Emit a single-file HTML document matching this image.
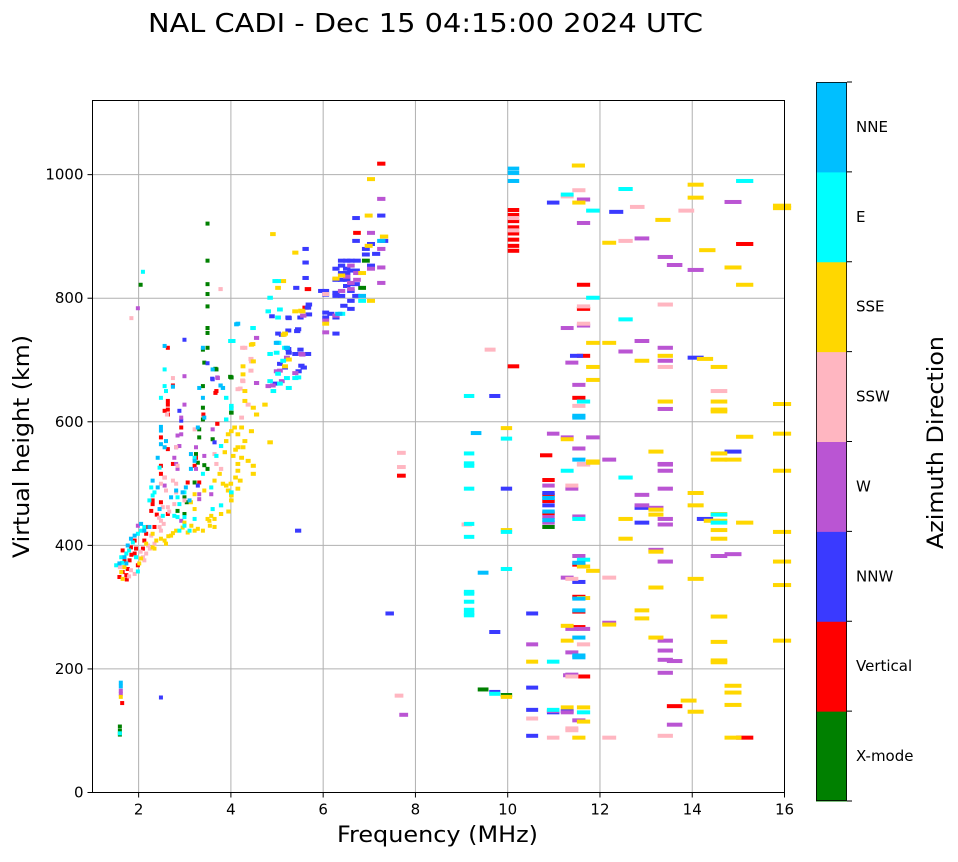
<!DOCTYPE html>
<html><head><meta charset="utf-8"><style>
html,body{margin:0;padding:0;background:#fff;}
svg text{font-family:"DejaVu Sans","Liberation Sans",sans-serif;fill:#000;}
</style></head><body>
<svg id="chart" width="958" height="857" xmlns="http://www.w3.org/2000/svg">
<text x="148" y="32" font-size="26" textLength="555" lengthAdjust="spacingAndGlyphs">NAL CADI - Dec 15 04:15:00 2024 UTC</text>
<g id="grid"></g>
<g id="marks"></g>
<rect x="92.5" y="100.5" width="692" height="692" fill="none" stroke="#000" stroke-width="1"/>
<g id="axes"></g>
<text x="337" y="842" font-size="22" textLength="201" lengthAdjust="spacingAndGlyphs">Frequency (MHz)</text>
<text transform="translate(29,558) rotate(-90)" font-size="22" textLength="223" lengthAdjust="spacingAndGlyphs">Virtual height (km)</text>
<g id="cbar"></g>
<text transform="translate(943,549) rotate(-90)" font-size="22" textLength="213" lengthAdjust="spacingAndGlyphs">Azimuth Direction</text>
</svg>
<script>
const directions = ["X-mode","Vertical","NNW","W","SSW","SSE","E","NNE"];
const dirColors = ["#008000","#ff0000","#3a3aff","#ba55d3","#ffb6c1","#ffd700","#00ffff","#00bfff"];
const xTicks = [2,4,6,8,10,12,14,16];
const yTicks = [0,200,400,600,800,1000];

const xmodeCells = [[3.45,787],[3.45,752],[3.45,744],[3.35,717],[3.38,696],[3.64,685],[3.96,672],[3.35,658],[3.35,623],[3.96,615],[3.35,604],[3.27,588],[3.27,575],[3.56,572],[3.2,548],[3.24,534],[3.45,524],[2.95,478],[3.17,502],[2.95,451],[2.8,456],[3.45,921],[3.45,861],[3.45,823],[3.45,807],[3.45,752],[3.45,720],[3.62,686],[3.94,673],[6.76,817],[6.84,861],[2.0,822],[1.55,107],[1.55,100],[1.55,94],[10.75,430],[9.35,167],[9.85,158],[3.38,530],[3.0,470]];
const verticalCells = [[2.59,720],[2.7,659],[2.59,634],[2.59,628],[2.59,620],[2.59,612],[2.52,618],[2.88,591],[2.44,575],[2.7,532],[2.59,556],[2.44,529],[2.52,510],[2.44,516],[3.17,529],[3.2,542],[3.27,502],[3.02,502],[3.64,650],[3.66,597],[3.36,612],[2.26,473],[2.26,467],[2.23,456],[2.44,470],[2.59,451],[2.3,430],[2.08,408],[2.12,419],[1.87,408],[1.87,387],[1.61,392],[1.76,376],[1.94,368],[1.61,357],[1.54,349],[1.69,352],[1.79,397],[2.05,395],[1.72,362],[1.65,375],[1.8,385],[1.9,395],[1.7,345],[2.15,430],[2.35,450],[6.65,906],[7.17,1018],[5.6,815],[5.55,785],[3.62,647],[1.6,145],[10,943],[10,935],[10,925],[10,915],[10,905],[10,895],[10,885],[10,877],[10,690],[14.95,888],[11.5,822],[11.5,783],[11.5,707],[11.4,639],[10.7,546],[10.75,506],[10.75,481],[10.75,472],[10.75,452],[11.4,369],[11.4,317],[11.4,293],[11.4,268],[11.5,188],[13.45,140],[14.95,89],[7.6,513]];
const nnwCells = [[2.95,733],[3.56,669],[2.84,618],[3.24,497],[3.6,567],[2.88,602],[5.04,741],[5.19,768],[5.19,712],[5.37,747],[5.44,717],[5.51,688],[5.11,688],[5.4,682],[5.62,790],[5.62,774],[5.39,424],[3.45,695],[4.83,771],[6.32,861],[6.43,861],[6.52,861],[6.65,861],[6.43,848],[6.2,848],[6.32,841],[6.43,841],[6.63,823],[6.52,823],[6.2,809],[6.2,804],[6.32,804],[6.63,804],[6.52,796],[6.2,769],[6.2,743],[6.37,788],[6.52,783],[6.09,775],[5.98,777],[5.98,769],[5.98,812],[5.98,806],[6.84,880],[6.84,871],[6.95,853],[7.06,872],[6.63,893],[6.63,930],[7.17,934],[7.23,893],[6.95,888],[5.55,858],[5.55,880],[5.35,817],[5.6,785],[5.44,769],[5.18,748],[5.39,750],[5.18,769],[5.6,710],[5.46,691],[5.33,710],[4.96,743],[5.0,694],[4.9,662],[3.55,670],[5.18,718],[5.55,833],[5.89,812],[6.32,830],[6.43,830],[6.52,812],[6.2,830],[6.32,853],[6.52,845],[6.63,845],[6.43,820],[2.44,154],[10.85,955],[12.2,940],[11.35,707],[13.9,704],[9.6,642],[10.75,485],[10.75,465],[9.85,492],[12.75,461],[12.75,437],[14.1,443],[14.7,552],[11.4,341],[10.4,290],[9.6,260],[10.4,170],[10.4,134],[10.4,92],[10.85,130],[11.15,132],[9.6,163],[7.35,290]];
const wCells = [[2.88,580],[2.8,578],[2.77,559],[2.88,607],[2.95,628],[2.84,561],[2.73,542],[2.77,532],[2.8,524],[2.52,497],[2.95,674],[3.56,588],[3.67,671],[4.5,663],[4.75,658],[4.93,682],[5.04,666],[3.27,475],[3.27,483],[3.2,524],[3.38,545],[1.94,784],[1.94,432],[2.88,440],[3.2,559],[3.53,483],[4.5,736],[5.15,704],[5.33,679],[5.48,709],[6.52,825],[6.65,841],[6.52,853],[6.32,812],[6.2,772],[5.98,764],[6.95,848],[7.17,880],[7.17,850],[7.17,825],[6.95,906],[7.17,961],[5.46,710],[5.5,772],[5.98,745],[5.0,683],[4.85,659],[3.66,672],[6.52,815],[6.43,835],[6.65,830],[1.57,165],[1.57,160],[7.65,126],[11.5,960],[14.7,956],[11.5,922],[12.75,897],[13.25,867],[13.45,854],[13.9,846],[11.15,752],[11.5,756],[12.75,731],[13.25,720],[12.4,714],[13.25,699],[11.25,696],[11.4,660],[13.25,621],[10.85,581],[11.15,575],[11.7,575],[11.4,557],[12.05,539],[13.25,532],[13.25,531],[13.25,521],[10.75,497],[11.25,492],[10.75,446],[10.75,437],[13.25,492],[12.75,482],[12.75,465],[13.05,461],[11.4,447],[13.25,443],[13.25,434],[13.05,393],[14.4,383],[14.7,386],[13.25,374],[11.4,383],[11.15,348],[12.05,275],[11.25,265],[11.5,265],[10.4,240],[13.25,246],[11.25,227],[13.25,230],[13.25,215],[13.45,213],[11.25,191],[13.25,194],[13.45,110],[11.2,190],[10.85,132],[11.15,130],[11.4,117]];
const sswCells = [[2.7,671],[2.44,500],[2.55,489],[2.48,462],[2.44,440],[2.41,430],[2.59,462],[2.7,505],[2.77,500],[2.95,473],[2.8,529],[2.77,559],[1.79,360],[1.87,354],[1.61,365],[2.05,381],[2.12,387],[2.16,400],[2.3,403],[2.23,416],[2.08,376],[2.44,424],[2.73,467],[3.17,588],[3.6,548],[3.74,524],[4.18,607],[4.21,666],[4.32,628],[4.25,720],[4.39,698],[4.1,653],[2.57,612],[2.52,510],[3.64,532],[2.77,486],[3.73,815],[5.98,807],[4.2,720],[4.38,702],[4.38,683],[4.2,667],[4.15,654],[1.8,768],[1.55,365],[1.75,350],[2.0,390],[2.2,395],[2.4,445],[2.5,435],[2.62,455],[7.55,157],[7.6,550],[7.6,527],[9.0,434],[11.4,975],[11.15,965],[12.65,948],[13.7,942],[12.4,893],[10,930],[10,910],[13.25,790],[11.5,787],[11.5,759],[9.5,717],[13.25,689],[14.4,650],[11.4,626],[11.5,532],[11.5,531],[11.25,497],[11.25,346],[12.05,348],[11.5,240],[11.25,188],[10.4,120],[11.25,104],[11.25,101],[13.25,92],[10.85,89],[12.05,89]];
const sseCells = [[2.95,437],[3.02,421],[3.17,424],[3.24,427],[3.09,470],[3.17,459],[3.38,489],[3.45,443],[3.6,505],[3.71,516],[3.78,500],[3.85,497],[3.89,489],[3.96,481],[3.74,451],[3.96,473],[4.1,492],[4.1,521],[4.1,532],[4.18,542],[4.21,559],[4.1,559],[4.25,569],[4.39,585],[3.96,585],[4.03,591],[4.18,591],[4.1,580],[4.43,529],[4.43,516],[4.32,537],[4.43,698],[4.39,725],[4.21,690],[4.21,677],[4.25,650],[4.25,634],[4.43,623],[4.5,612],[4.68,628],[4.79,567],[3.89,580],[3.85,569],[3.17,483],[3.82,551],[2.26,397],[2.34,408],[2.44,411],[2.52,408],[2.66,416],[2.77,424],[2.91,429],[2.55,403],[2.3,395],[2.26,419],[2.12,403],[1.61,346],[1.58,357],[1.65,365],[1.97,371],[2.01,379],[2.6,415],[2.7,420],[3.1,432],[5.19,701],[5.11,690],[5.33,779],[5.48,779],[5.08,741],[3.49,440],[3.35,424],[3.6,443],[3.53,448],[4.0,545],[4.05,555],[3.95,500],[3.6,430],[3.5,432],[4.05,510],[4.15,505],[3.9,455],[6.95,993],[4.85,904],[6.9,934],[7.23,900],[6.9,885],[5.33,874],[6.95,796],[6.32,837],[5.98,759],[6.76,841],[5.07,828],[5.46,780],[6.2,832],[5.11,743],[4.42,726],[4.96,817],[1.57,155],[11.39,1015],[13.9,984],[13.9,963],[11.4,955],[15.75,950],[15.75,946],[13.2,927],[12.05,890],[14.15,878],[14.7,850],[14.95,822],[11.7,728],[12.05,728],[13.25,707],[14.1,702],[12.75,699],[11.7,689],[14.4,689],[11.7,668],[13.25,633],[14.4,633],[15.75,629],[14.4,620],[14.4,617],[9.85,590],[11.15,572],[11.7,536],[13.05,552],[14.4,549],[14.4,539],[14.7,539],[14.95,576],[15.75,581],[11.7,534],[15.75,521],[13.9,485],[13.9,465],[13.05,458],[13.05,450],[12.4,443],[14.4,451],[14.25,440],[14.4,440],[14.95,437],[14.4,425],[15.75,422],[14.4,411],[12.4,411],[9.85,425],[13.05,390],[15.75,374],[11.5,366],[11.7,359],[13.9,346],[13.05,332],[15.75,336],[11.5,315],[12.75,295],[12.75,282],[12.05,272],[13.05,251],[14.4,285],[11.15,270],[11.15,246],[14.4,244],[15.75,246],[14.4,214],[14.4,211],[10.4,212],[14.7,173],[14.7,162],[14.7,142],[13.75,149],[13.9,131],[11.15,138],[11.5,138],[11.5,115],[11.4,89],[14.7,89],[9.85,155]];
const eCells = [[2.8,478],[2.95,486],[2.84,467],[2.73,448],[3.64,545],[3.74,561],[3.74,465],[3.56,459],[3.96,486],[3.96,626],[3.85,604],[3.17,443],[2.95,446],[2.8,446],[2.48,448],[2.3,486],[2.26,481],[2.19,473],[2.08,430],[2.01,424],[1.94,419],[1.83,405],[1.69,387],[1.58,381],[1.47,368],[1.9,381],[1.94,358],[1.75,392],[1.6,372],[3.17,542],[3.35,516],[2.52,685],[2.55,650],[2.52,658],[2.44,639],[2.23,494],[2.41,526],[2.84,424],[3.06,424],[2.95,432],[3.53,494],[4.0,731],[4.43,752],[4.97,728],[4.93,712],[4.79,666],[5.15,671],[5.19,655],[4.86,650],[5.0,782],[3.96,622],[3.85,639],[4.75,779],[5.33,671],[4.9,828],[4.96,828],[6.32,775],[6.76,796],[4.79,801],[4.96,769],[4.79,710],[4.96,728],[5.11,720],[5.07,699],[5.39,672],[4.42,752],[3.94,731],[4.96,678],[5.0,662],[2.05,843],[1.55,96],[14.95,990],[12.4,977],[11.15,968],[11.7,942],[11.7,801],[12.4,766],[11.5,633],[9.05,642],[9.85,573],[9.05,549],[9.05,533],[9.05,529],[11.15,521],[12.4,510],[9.05,492],[10.75,477],[11.4,443],[14.4,437],[14.4,450],[9.05,435],[9.85,422],[9.05,414],[11.5,377],[9.85,362],[9.05,325],[9.05,322],[9.05,309],[9.05,296],[9.05,290],[9.05,287],[10.85,212],[10.85,134],[11.5,130],[9.6,160]];
const nneCells = [[2.44,586],[2.44,592],[2.52,559],[2.37,542],[2.44,564],[2.55,569],[3.09,524],[3.09,548],[3.27,655],[3.38,607],[3.35,639],[3.56,685],[3.78,655],[2.41,459],[2.26,505],[2.37,494],[2.19,430],[2.08,424],[1.87,416],[2.01,435],[1.69,371],[1.54,371],[1.65,381],[1.79,411],[1.72,400],[2.91,486],[3.06,473],[2.66,478],[2.77,489],[2.52,723],[2.7,657],[2.98,494],[4.07,758],[3.24,591],[3.17,537],[3.35,720],[4.93,728],[5.15,720],[6.76,804],[7.17,893],[4.1,759],[3.73,659],[6.26,775],[1.57,178],[1.57,172],[10,1010],[10,1003],[10,990],[11.4,610],[11.4,607],[9.2,582],[10.75,477],[10.75,455],[10.75,441],[11.4,539],[11.4,372],[11.4,314],[11.4,295],[11.4,251],[11.4,222],[11.4,219],[9.35,356]];

const seriesList = [xmodeCells, verticalCells, nnwCells, wCells, sswCells, sseCells, eCells, nneCells];

const X0 = 92.5, X1 = 784.5, FMIN = 1, FMAX = 16;
const Y0 = 792.5, HMIN = 0, HMAX = 1120;
const Ytop = 100.5;
function xs(f){ return X0 + (f - FMIN) / (FMAX - FMIN) * (X1 - X0); }
function ys(h){ return Y0 - (h - HMIN) / (HMAX - HMIN) * (Y0 - Ytop); }
const NS = "http://www.w3.org/2000/svg";
function mk(tag, attrs, parent){ const e = document.createElementNS(NS, tag); for (const k in attrs) e.setAttribute(k, attrs[k]); parent.appendChild(e); return e; }

const grid = document.getElementById('grid');
const axes = document.getElementById('axes');
xTicks.forEach(t => {
  const x = xs(t);
  const gl = mk('line', {x1:x, x2:x, y1:Ytop, y2:Y0, stroke:'#b0b0b0', 'stroke-width':1}, grid);
  
  
  const tk = mk('line', {x1:x, x2:x, y1:Y0, y2:Y0+5, stroke:'#000', 'stroke-width':1}, axes);
  
  
  const lb = mk('text', {x:x, y:Y0+22, 'font-size':15, 'text-anchor':'middle'}, axes);
  lb.textContent = t;
  
  
});
yTicks.forEach(t => {
  const y = ys(t);
  const gl = mk('line', {x1:X0, x2:X1, y1:y, y2:y, stroke:'#b0b0b0', 'stroke-width':1}, grid);
  
  
  const tk = mk('line', {x1:X0-5, x2:X0, y1:y, y2:y, stroke:'#000', 'stroke-width':1}, axes);
  
  
  const lb = mk('text', {x:X0-9, y:y+5, 'font-size':15, 'text-anchor':'end'}, axes);
  lb.textContent = t;
  
  
});

const marks = document.getElementById('marks');
seriesList.forEach((cells, di) => {
  cells.forEach(c => {
    const f = c[0], h = c[1];
    const x = xs(f), w = Math.max(4, xs(f * 1.025) - xs(f));
    const y = ys(h + 3);
    const r = mk('rect', {x:x, y:y, width:w, height:4, fill:dirColors[di]}, marks);
    
    
  });
});

const cbar = document.getElementById('cbar');
const CB_X = 816, CB_W = 31, CB_TOP = 82, CB_BOT = 801;
const segH = (CB_BOT - CB_TOP) / directions.length;
directions.forEach((d, i) => {
  const yTop = CB_BOT - (i + 1) * segH;
  const r = mk('rect', {x:CB_X, y:yTop, width:CB_W, height:segH + 0.5, fill:dirColors[i]}, cbar);
  
  
  const lb = mk('text', {x:CB_X + CB_W + 9, y:yTop + segH / 2 + 5, 'font-size':15}, cbar);
  lb.textContent = d;
  
  
});
for (let i = 0; i <= directions.length; i++) {
  const y = CB_TOP + i * segH;
  const t = mk('line', {x1:CB_X + CB_W, x2:CB_X + CB_W + 5, y1:y, y2:y, stroke:'#000', 'stroke-width':1}, cbar);
  
  
}
const fr = mk('rect', {x:CB_X + 0.5, y:CB_TOP + 0.5, width:CB_W - 1, height:CB_BOT - CB_TOP - 1, fill:'none', stroke:'#000', 'stroke-width':0.8}, cbar);


</script>
</body></html>
